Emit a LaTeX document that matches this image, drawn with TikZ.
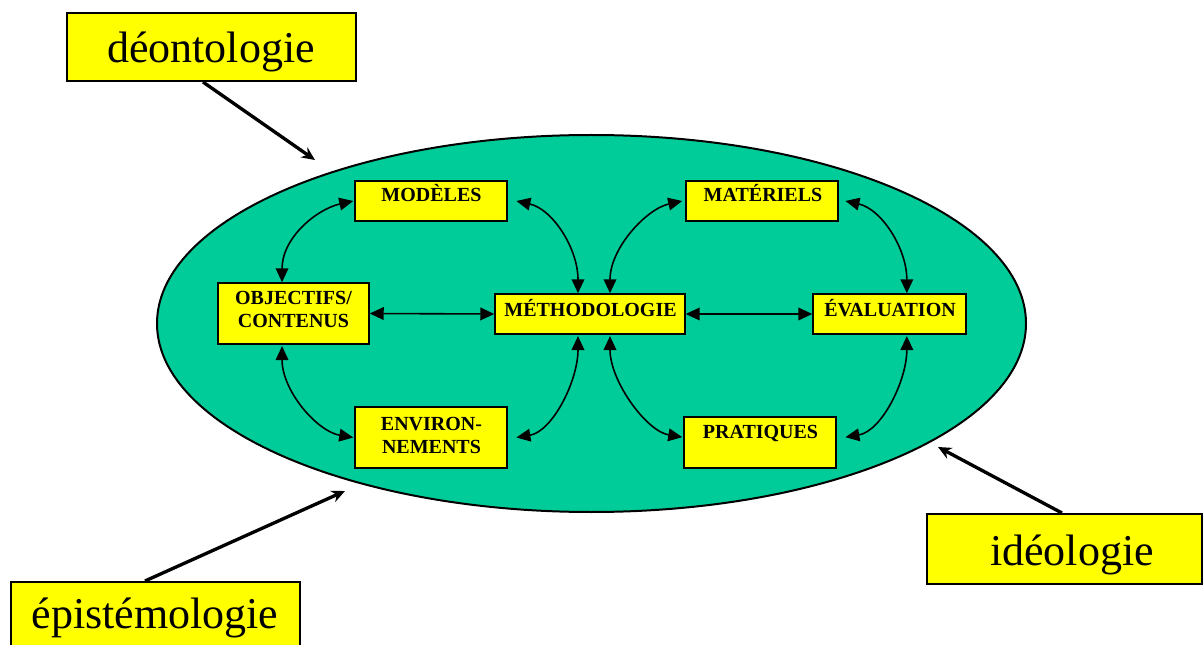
\documentclass[tikz,border=0pt]{standalone}
\usepackage{fontspec}
\setmainfont{Liberation Serif}
\usetikzlibrary{arrows.meta,fit,shapes.geometric}
\definecolor{teal0}{RGB}{0,204,153}
\definecolor{yel}{RGB}{255,255,0}
\tikzset{
  bigbox/.style={draw=black,line width=1.5pt,fill=yel,inner sep=0pt},
  smallbox/.style={draw=black,line width=1.1pt,fill=yel,inner sep=0pt},
  biglbl/.style={anchor=base,inner sep=0pt,font=\fontsize{33}{40}\selectfont},
  lbl/.style={anchor=base,inner sep=0pt,align=center,font=\bfseries\fontsize{15}{17.25}\selectfont},
  dbl/.style={{Triangle[length=10.5pt,width=9.5pt]}-{Triangle[length=10.5pt,width=9.5pt]},line width=1.2pt},
  thick arrow/.style={-{Stealth[length=10pt,width=9pt]},line width=2.5pt},
}
\begin{document}
\begin{tikzpicture}[x=0.75pt,y=-0.75pt]
\clip (0,0) rectangle (1203,645);
\fill[white] (0,0) rectangle (1203,645);
% ellipse
\node[draw=black,line width=1.5pt,fill=teal0,ellipse,inner sep=0pt,
  minimum width=651.75pt,minimum height=282.75pt] (ell) at (591.5,323.5) {};
% outer label boxes
\node[bigbox,fit={(67,13) (356,81)}] (deon) {};
\node[biglbl] (deont) at (211,63) {déontologie};
\node[bigbox,fit={(11,582) (300,652)}] (epis) {};
\node[biglbl] (epist) at (155,628) {épistémologie};
\node[bigbox,fit={(927,514) (1202,584)}] (ideo) {};
\node[biglbl] (ideot) at (1072,565) {idéologie};
% inner boxes
\node[smallbox,fit={(355,181) (507,221)}] (mod) {};
\node[lbl] (modt) at (431.5,202) {MODÈLES};
\node[smallbox,fit={(218,283) (369,344)}] (obj) {};
\node[lbl] (objt) at (293.5,328) {OBJECTIFS/\\CONTENUS};
\node[smallbox,fit={(495,294) (685,334)}] (meth) {};
\node[lbl] (metht) at (590.5,316) {MÉTHODOLOGIE};
\node[smallbox,fit={(355,407) (507,468)}] (env) {};
\node[lbl] (envt) at (431.5,453) {ENVIRON-\\NEMENTS};
\node[smallbox,fit={(686,181) (838,221)}] (mat) {};
\node[lbl] (matt) at (763,202) {MATÉRIELS};
\node[smallbox,fit={(813,294) (966,334)}] (eval) {};
\node[lbl] (evalt) at (890,316) {ÉVALUATION};
\node[smallbox,fit={(684,417) (836,468)}] (prat) {};
\node[lbl] (pratt) at (760.5,438) {PRATIQUES};
% connector end points
\coordinate (objN) at ([xshift=-8.6pt]obj.north);
\coordinate (objS) at ([xshift=-8.6pt,yshift=-1pt]obj.south);
\coordinate (methNL) at ([xshift=-9pt]meth.north);
\coordinate (methNR) at ([xshift=15pt]meth.north);
\coordinate (methSL) at ([xshift=-9pt,yshift=-1pt]meth.south);
\coordinate (methSR) at ([xshift=15pt,yshift=-1pt]meth.south);
\coordinate (evalN) at ([xshift=13pt]eval.north);
\coordinate (evalS) at ([xshift=13pt,yshift=-1pt]eval.south);
\coordinate (modW) at ([xshift=-0.75pt]mod.west);
\coordinate (modE) at ([xshift=6.5pt]mod.east);
\coordinate (envW) at ([xshift=-0.75pt]env.west);
\coordinate (envE) at ([xshift=6.5pt]env.east);
\coordinate (matW) at ([xshift=-2.3pt]mat.west);
\coordinate (matE) at ([xshift=5pt]mat.east);
\coordinate (pratW) at ([xshift=-0.75pt,yshift=4pt]prat.west);
\coordinate (pratE) at ([xshift=6.5pt,yshift=4pt]prat.east);
% curved connectors
\draw[dbl] (objN) .. controls +(0,-45) and +(-36,8) .. (modW);
\draw[dbl] (modE) .. controls +(36,8) and +(0,-45) .. (methNL);
\draw[dbl] (objS) .. controls +(0,45) and +(-36,-6) .. (envW);
\draw[dbl] (envE) .. controls +(36,-6) and +(0,45) .. (methSL);
\draw[dbl] (matW) .. controls +(-36,8) and +(0,-45) .. (methNR);
\draw[dbl] (matE) .. controls +(36,8) and +(0,-45) .. (evalN);
\draw[dbl] (pratW) .. controls +(-36,-6) and +(0,45) .. (methSR);
\draw[dbl] (pratE) .. controls +(36,-6) and +(0,45) .. (evalS);
% straight connectors
\draw[dbl] (obj.east) -- (meth.west);
\draw[dbl] (meth.east) -- (eval.west);
% thick arrows
\coordinate (deonTip) at (315,160);
\coordinate (episTip) at (345,491);
\coordinate (ideoTip) at (938,447);
\draw[thick arrow] ([xshift=-6.4pt]deon.south) -- (deonTip);
\draw[thick arrow] ([xshift=-7.9pt]epis.north) -- (episTip);
\draw[thick arrow] ([xshift=-1.9pt]ideo.north) -- (ideoTip);
\end{tikzpicture}
\end{document}
